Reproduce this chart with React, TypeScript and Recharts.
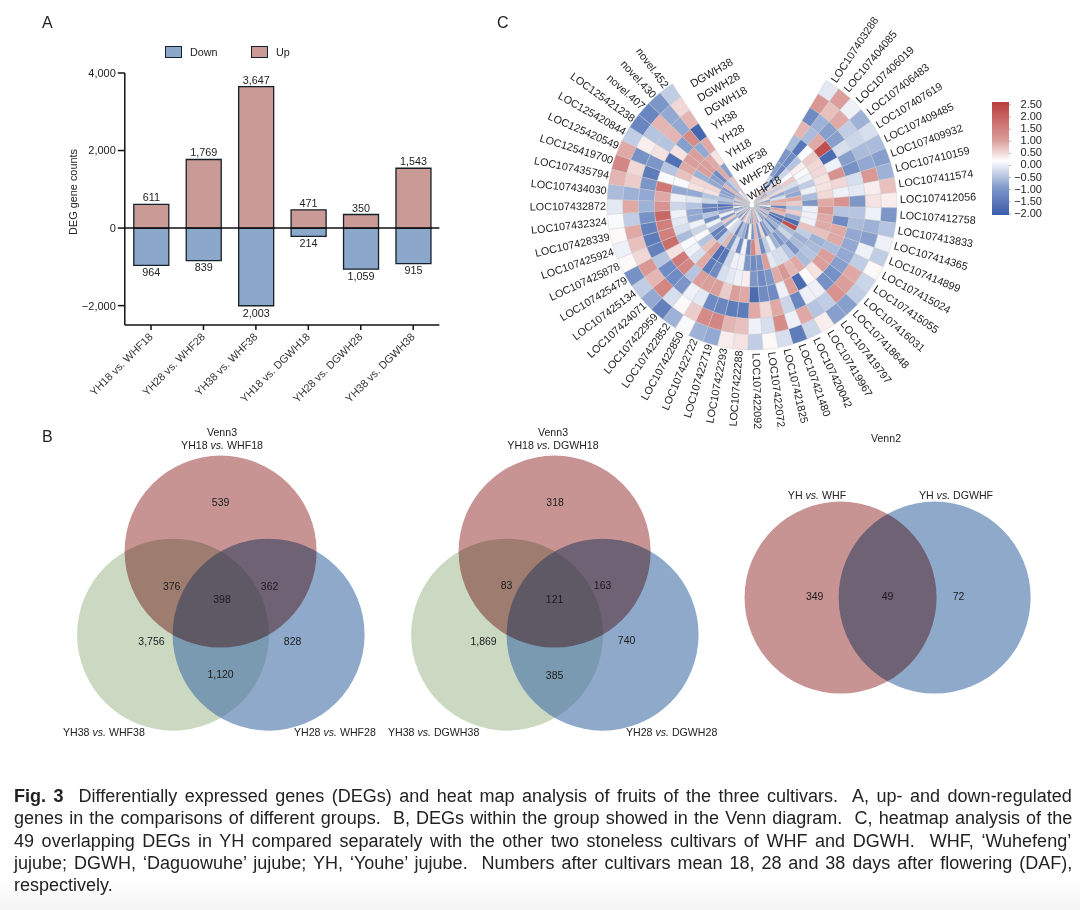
import React from "react";
import {
  Bar,
  BarChart,
  Cell,
  ComposedChart,
  LabelList,
  Legend,
  Pie,
  PieChart,
  ReferenceLine,
  Scatter,
  ScatterChart,
  XAxis,
  YAxis,
  ZAxis,
} from "recharts";

const FONT = "Arial, 'Liberation Sans', sans-serif";
const INK = "#222";

// panel A
const COMPARISONS = [
  "YH18 vs. WHF18",
  "YH28 vs. WHF28",
  "YH38 vs. WHF38",
  "YH18 vs. DGWH18",
  "YH28 vs. DGWH28",
  "YH38 vs. DGWH38",
];
const UP_COUNTS = [611, 1769, 3647, 471, 350, 1543];
const DOWN_COUNTS = [-964, -839, -2003, -214, -1059, -915];
const COUNT_TICKS = [-2000, 0, 2000, 4000];

const barData = COMPARISONS.map((name, i) => ({
  name,
  Up: UP_COUNTS[i],
  Down: DOWN_COUNTS[i],
}));

// panel C, genes run clockwise from the top right
const GENES = [
  "LOC107403288", "LOC107404085", "LOC107406019", "LOC107406483", "LOC107407619", "LOC107409485", "LOC107409932",
  "LOC107410159", "LOC107411574", "LOC107412056", "LOC107412758", "LOC107413833", "LOC107414365", "LOC107414899",
  "LOC107415024", "LOC107415055", "LOC107416031", "LOC107418648", "LOC107419797", "LOC107419967", "LOC107420042",
  "LOC107421480", "LOC107421825", "LOC107422072", "LOC107422092", "LOC107422288", "LOC107422293", "LOC107422719",
  "LOC107422722", "LOC107422850", "LOC107422852", "LOC107422959", "LOC107424071", "LOC107425134", "LOC107425479",
  "LOC107425878", "LOC107425924", "LOC107428339", "LOC107432324", "LOC107432872", "LOC107434030", "LOC107435794",
  "LOC125419700", "LOC125420549", "LOC125420844", "LOC125421238", "novel.407", "novel.430", "novel.452",
];
const DGWH38 = [
  -0.1, 1.0, 0, -0.7, -0.2, -0.6, -0.9,
  -0.7, 0.7, 0.3, -1.0, -0.5, 0, -0.4,
  0.2, -0.3, -0.4, -0.9, -0.9, 0.3, -0.3,
  -1.5, -0.2, 0.2, -0.4, 0.4, 0.3, -0.8,
  -0.7, 0.1, -0.7, -1.4, -0.8, -0.4, -1.1,
  0.2, 0, 0.2, 0.1, -0.1, -0.6, 0.8,
  1.4, 0.9, -0.4, -1.3, -1.3, -1.0, -0.4,
];
const DGWH28 = [
  1.1, 0.7, 0.9, -0.4, -0.3, -0.6, -0.8,
  1.1, 0.3, 0.4, 0, -0.7, -0.9, 0,
  -0.4, 0.9, 1.0, 1.2, -0.4, -0.5, 0.9,
  0, 1.3, -0.2, 0, 0.7, 0.8, 1.4,
  1.3, 0.6, 0.2, -0.2, 1.4, 0.8, 1.1,
  0.5, 0.7, 0.9, -0.4, 0.9, -0.7, 0.6,
  0.5, -1.1, 0.3, -0.5, 0.8, -0.8, 0.5,
];
const DGWH18 = [
  -1.2, -0.7, -0.9, -0.9, -0.2, -0.9, -1.1,
  -0.2, -0.1, -1.0, -0.5, -0.6, -0.8, -0.8,
  -0.8, -0.9, -1.1, -1.1, 0, 0, -1.3,
  -0.3, 0.9, 0.5, 0.9, -1.5, -1.5, -1.3,
  -1.2, -0.1, 0, -1.0, -1.2, -1.2, -0.5,
  -1.4, -1.5, -1.4, -1.1, -0.7, -0.8, -1.0,
  -1.5, -1.0, 0.4, -0.5, 0.8, -0.8, 0.8,
];
const YH38 = [
  0.8, -0.6, 0.9, 2.3, -1.8, 0, 1.2,
  0.5, 0, 1.2, -0.5, -1.2, 0.9, 0.9,
  -0.6, 1.0, 1.0, 0.4, 0.2, -1.8, 1.0,
  0, -1.2, -1.2, -1.8, 0.9, 1.0, 0.6,
  1.0, 1.0, 1.0, -0.5, 1.4, 1.6, 0.4,
  1.8, 1.5, 1.5, 1.9, 1.2, 0.9, 1.6,
  0.1, -0.5, -1.7, 0.4, -0.9, 1.3, -1.9,
];
const YH28 = [
  -0.6, -1.6, 0.1, 0.6, 0.5, 0.5, 0.4,
  0.4, 0.5, 0.9, 1.1, 0.9, 0.9, 0.7,
  -0.7, -0.6, -0.5, -0.6, 0.9, 0.8, 1.1,
  0.9, -1.0, -1.2, -1.0, 0.3, 0, -0.1,
  -0.2, -1.2, -1.5, 0.9, -0.2, 0, 0.1,
  -0.6, -0.2, -0.1, 0, -0.3, 0, -0.8,
  0.1, 0.7, 0.9, 1.0, 1.0, -0.8, 0.9,
];
const YH18 = [
  -1.0, -1.2, -0.5, 0.3, 0.1, 0, -0.4,
  0, -0.6, -1.0, 0, 0, 0, 0.7,
  -0.4, -0.7, -0.6, -1.0, -0.5, -0.2, -0.2,
  -0.1, 1.0, -1.1, -1.2, -1.0, 0, 0,
  -0.3, -1.6, -1.7, 1.0, 0.7, -0.5, 0.1,
  -0.3, 0, -0.8, -0.8, -0.5, -0.1, -0.8,
  0.4, 0.5, -0.7, 1.0, 1.0, 0.9, 0.4,
];
const WHF38 = [
  -0.9, -1.3, -0.3, 0.1, 0.6, -0.2, -0.7,
  -0.8, 0.9, 0.6, -0.5, 0.6, -0.8, -1.8,
  2.3, -0.6, -0.3, -0.8, -1.0, -0.7, 0,
  -0.4, -1.2, 0.7, 1.4, -1.3, 0, -1.2,
  -0.2, -1.1, 0.8, -0.4, -1.3, -1.4, -0.6,
  0, -1.1, -0.5, -1.4, -1.3, -0.3, -0.5,
  0.4, 0.5, -0.8, -0.9, -1.2, 0.9, -0.9,
];
const WHF28 = [
  -0.3, -1.2, -0.2, 0.6, -0.4, 0.5, -0.8,
  -0.2, 0.9, 0.8, -1.3, 1.0, 0.8, -1.5,
  -1.8, -0.9, -0.7, -1.2, -0.5, -0.9, -1.2,
  0.5, -1.0, 0.8, -1.0, 0.1, -1.3, -0.8,
  -0.6, -1.4, -0.3, -0.2, 0.1, -0.8, 0.6,
  -1.0, 0, -0.8, -1.5, -1.7, -0.8, -0.5,
  -0.8, -0.9, -1.0, 0.8, -0.7, -0.4, 0.7,
];
const WHF18 = [
  0.6, 0.9, -0.5, -0.8, 0.9, -0.2, 0.4,
  -1.0, 1.0, -0.6, 0.2, -1.2, -1.3, 0.9,
  -0.5, -1.0, 0.7, -0.9, -1.1, -0.4, 0.3,
  -0.8, 0.9, -0.6, 1.2, -1.0, -0.4, 0.8,
  0, 0.7, -1.1, 0.5, -1.2, -0.6, -0.9,
  0.4, -0.7, -1.4, 0.2, -1.0, 0.6, -0.9,
  -0.3, 0.9, -0.8, -0.6, 0.8, 0.3, -0.5,
];
// outermost ring first, so the inner ring names stay on top
const RINGS = [
  { name: "DGWH38", values: DGWH38 },
  { name: "DGWH28", values: DGWH28 },
  { name: "DGWH18", values: DGWH18 },
  { name: "YH38", values: YH38 },
  { name: "YH28", values: YH28 },
  { name: "YH18", values: YH18 },
  { name: "WHF38", values: WHF38 },
  { name: "WHF28", values: WHF28 },
  { name: "WHF18", values: WHF18 },
];
const HEAT_TICKS = [-2, -1.5, -1, -0.5, 0, 0.5, 1, 1.5, 2, 2.5];

const HEAT_STOPS: [number, number[]][] = [
  [-2.1, [58, 92, 170]],
  [-1, [124, 150, 200]],
  [0.15, [255, 255, 255]],
  [1, [220, 158, 154]],
  [2.6, [184, 62, 62]],
];

const heatColor = (v: number) => {
  for (let i = 1; i < HEAT_STOPS.length; i++) {
    const [hi, c1] = HEAT_STOPS[i];
    const [lo, c0] = HEAT_STOPS[i - 1];
    if (v <= hi) {
      const t = (v - lo) / (hi - lo);
      return `rgb(${c0.map((c, k) => Math.round(c + (c1[k] - c) * t)).join(",")})`;
    }
  }
  return "rgb(184,62,62)";
};

// panel B, in units of one circle radius around the middle of each diagram
const VENN_THREE_SETS = [
  { x: -0.495, y: -0.365, set: "green" },
  { x: 0.5, y: -0.365, set: "blue" },
  { x: 0, y: 0.5, set: "red" },
];
const VENN_A_COUNTS = [
  { x: 0, y: 1.0, text: "539" },
  { x: -0.51, y: 0.125, text: "376" },
  { x: 0.015, y: -0.01, text: "398" },
  { x: 0.51, y: 0.125, text: "362" },
  { x: -0.72, y: -0.44, text: "3,756" },
  { x: 0.75, y: -0.44, text: "828" },
  { x: 0, y: -0.79, text: "1,120" },
];
const VENN_B_COUNTS = [
  { x: 0.005, y: 1.0, text: "318" },
  { x: -0.5, y: 0.135, text: "83" },
  { x: 0, y: -0.01, text: "121" },
  { x: 0.5, y: 0.135, text: "163" },
  { x: -0.74, y: -0.44, text: "1,869" },
  { x: 0.75, y: -0.43, text: "740" },
  { x: 0, y: -0.795, text: "385" },
];
const VENN_TWO_SETS = [
  { x: 0.49, y: 0, set: "blue" },
  { x: -0.49, y: 0, set: "red" },
];
const VENN_C_COUNTS = [
  { x: -0.76, y: 0, text: "349" },
  { x: 0, y: 0, text: "49" },
  { x: 0.74, y: 0, text: "72" },
];

const SET_STYLE: Record<string, any> = {
  green: { fill: "#cbd9c3" },
  blue: { fill: "#4370a5", fillOpacity: 0.6 },
  red: { fill: "#c79393", style: { mixBlendMode: "multiply" } },
};

const CAPTION = [
  "Differentially expressed genes (DEGs) and heat map analysis of fruits of the three cultivars.  A, up- and down-regulated",
  "genes in the comparisons of different groups.  B, DEGs within the group showed in the Venn diagram.  C, heatmap analysis of the",
  "49 overlapping DEGs in YH compared separately with the other two stoneless cultivars of WHF and DGWH.  WHF, ‘Wuhefeng’",
  "jujube; DGWH, ‘Daguowuhe’ jujube; YH, ‘Youhe’ jujube.  Numbers after cultivars mean 18, 28 and 38 days after flowering (DAF),",
  "respectively.",
];
const CAPTION_WORD_GAP = [2.5, 1.13, 2.6, 1.95, 0];
const CAPTION_Y = [796, 818, 841, 863, 885];

const VENN_R = 96;
const VENN_SPAN = 2.1;

const Note = ({ x, y, size = 10.6, center, wordSpacing, children }: any) => (
  <div
    style={{
      position: "absolute",
      left: x,
      top: y,
      transform: center ? "translate(-50%, -50%)" : "translate(0, -50%)",
      fontFamily: FONT,
      fontSize: size,
      color: INK,
      whiteSpace: "pre",
      lineHeight: 1,
      wordSpacing,
    }}
  >
    {children}
  </div>
);

const Vs = ({ a, b }: { a: string; b: string }) => (
  <>
    {a} <i>vs.</i> {b}
  </>
);

const Venn = ({ cx, cy, sets, counts }: any) => {
  const size = VENN_R * VENN_SPAN * 2;
  const area = Math.PI * VENN_R * VENN_R;
  return (
    <div style={{ position: "absolute", left: cx - size / 2, top: cy - size / 2 }}>
      <ScatterChart width={size} height={size} margin={{ top: 0, right: 0, bottom: 0, left: 0 }}>
        <XAxis type="number" dataKey="x" domain={[-VENN_SPAN, VENN_SPAN]} hide />
        <YAxis type="number" dataKey="y" domain={[-VENN_SPAN, VENN_SPAN]} hide />
        <ZAxis range={[area, area]} />
        {sets.map((s: any, i: number) => (
          <Scatter
            key={i}
            data={[s]}
            isAnimationActive={false}
            shape={(p: any) => <circle cx={p.cx} cy={p.cy} r={VENN_R} {...SET_STYLE[s.set]} />}
          />
        ))}
        <Scatter
          data={counts}
          isAnimationActive={false}
          shape={(p: any) => (
            <text x={p.cx} y={p.cy} textAnchor="middle" dominantBaseline="middle" fontSize={10.5} fontFamily={FONT} fill="#1c1c1c">
              {p.payload.text}
            </text>
          )}
        />
      </ScatterChart>
    </div>
  );
};

const HEAT_SIZE = 520;
const HEAT_START = 59.3; // recharts degrees, 30.7 clockwise from the top
const HEAT_SWEEP = 296;
const RING_WIDTH = 15.8;
const OUTER_RADIUS = 145;

const polar = (cx: number, cy: number, r: number, deg: number) => ({
  x: cx + r * Math.cos((-deg * Math.PI) / 180),
  y: cy + r * Math.sin((-deg * Math.PI) / 180),
});

const ringLabel = (ringIndex: number, ringName: string) => (p: any) => {
  const out: React.ReactNode[] = [];
  if (ringIndex === 0) {
    const right = Math.cos((p.midAngle * Math.PI) / 180) >= 0;
    const at = polar(p.cx, p.cy, OUTER_RADIUS + (right ? 3 : 1), p.midAngle);
    out.push(
      <text
        key="gene"
        x={at.x}
        y={at.y}
        fontSize={10.8}
        fontFamily={FONT}
        fill={INK}
        dominantBaseline="middle"
        textAnchor={right ? "start" : "end"}
        transform={`rotate(${right ? -p.midAngle : 180 - p.midAngle} ${at.x} ${at.y})`}
      >
        {p.payload.gene}
      </text>
    );
  }
  if (p.index === GENES.length - 1) {
    const at = polar(p.cx, p.cy, (p.innerRadius + p.outerRadius) / 2 - 3, p.midAngle - 9.5);
    out.push(
      <text
        key="ring"
        x={at.x}
        y={at.y}
        fontSize={11}
        fontFamily={FONT}
        fill={INK}
        dominantBaseline="middle"
        transform={`rotate(-30 ${at.x} ${at.y})`}
      >
        {ringName}
      </text>
    );
  }
  return <g>{out}</g>;
};

const Heat = () => (
  <div style={{ position: "absolute", left: 752 - HEAT_SIZE / 2, top: 205 - HEAT_SIZE / 2 }}>
    <PieChart width={HEAT_SIZE} height={HEAT_SIZE} margin={{ top: 0, right: 0, bottom: 0, left: 0 }}>
      {RINGS.map((ring, r) => (
        <Pie
          key={ring.name}
          data={GENES.map((gene, i) => ({ gene, level: ring.values[i], slice: 1 }))}
          dataKey="slice"
          nameKey="gene"
          cx={HEAT_SIZE / 2}
          cy={HEAT_SIZE / 2}
          startAngle={HEAT_START}
          endAngle={HEAT_START - HEAT_SWEEP}
          innerRadius={OUTER_RADIUS - RING_WIDTH * (r + 1)}
          outerRadius={OUTER_RADIUS - RING_WIDTH * r}
          stroke="#c9c9c9"
          strokeWidth={0.4}
          label={ringLabel(r, ring.name)}
          labelLine={false}
          isAnimationActive={false}
        >
          {ring.values.map((v, i) => (
            <Cell key={i} fill={heatColor(v)} />
          ))}
        </Pie>
      ))}
    </PieChart>
  </div>
);

const heatBarData = [{ name: "z", span: [-2.04, 2.62] }];

const HeatTick = ({ x, y, payload }: any) => (
  <text x={x + 29} y={y} textAnchor="end" dominantBaseline="middle" fontSize={11} fontFamily={FONT} fill={INK}>
    {payload.value < 0 ? "−" + Math.abs(payload.value).toFixed(2) : payload.value.toFixed(2)}
  </text>
);

const HeatScale = () => (
  <div style={{ position: "absolute", left: 992, top: 90 }}>
    <BarChart
      width={70}
      height={137}
      data={heatBarData}
      barCategoryGap={0}
      margin={{ top: 12, right: 0, bottom: 12, left: 0 }}
    >
      <defs>
        <linearGradient id="heatScale" x1="0" y1="1" x2="0" y2="0">
          {HEAT_STOPS.map(([v]) => (
            <stop key={v} offset={(v + 2.1) / 4.7} stopColor={heatColor(v)} />
          ))}
        </linearGradient>
      </defs>
      <XAxis dataKey="name" hide />
      <YAxis
        orientation="right"
        width={53}
        domain={[-2.04, 2.62]}
        ticks={HEAT_TICKS}
        interval={0}
        axisLine={false}
        tickLine={{ stroke: "#888", strokeWidth: 0.6 }}
        tickSize={2}
        tick={<HeatTick />}
      />
      <Bar dataKey="span" fill="url(#heatScale)" isAnimationActive={false} />
    </BarChart>
  </div>
);

const BarLegend = ({ payload }: any) => (
  <div style={{ display: "flex", fontFamily: FONT, fontSize: 10.8, color: INK }}>
    {(payload || []).map((e: any) => (
      <div key={e.value} style={{ display: "flex", alignItems: "center", width: 86 }}>
        <span
          style={{
            width: 15,
            height: 10,
            marginRight: 8,
            background: e.color,
            border: "1.5px solid #18222c",
            display: "inline-block",
          }}
        />
        {e.value}
      </div>
    ))}
  </div>
);

const DownLabel = ({ x, y, width, height, value }: any) => (
  <text
    x={x + width / 2}
    y={Math.max(y, y + height) + 8}
    textAnchor="middle"
    dominantBaseline="middle"
    fontSize={10.8}
    fontFamily={FONT}
    fill={INK}
  >
    {Math.abs(value).toLocaleString("en-US")}
  </text>
);

const DegBars = () => (
  <div style={{ position: "absolute", left: 30, top: 0 }}>
    <ComposedChart
      width={430}
      height={420}
      data={barData}
      stackOffset="sign"
      barSize={35}
      margin={{ top: 73, right: 20.6, bottom: 0, left: 0 }}
    >
      <XAxis
        dataKey="name"
        height={95}
        interval={0}
        tickSize={5}
        axisLine={{ stroke: "#111", strokeWidth: 1.5 }}
        tickLine={{ stroke: "#111", strokeWidth: 1.5 }}
        tick={{ fontSize: 10.8, fontFamily: FONT, fill: "#333", angle: -45, textAnchor: "end", dx: -3 }}
      />
      <YAxis
        width={94.8}
        domain={[-2500, 4000]}
        ticks={COUNT_TICKS}
        interval={0}
        allowDataOverflow
        tickSize={7}
        axisLine={{ stroke: "#111", strokeWidth: 1.5 }}
        tickLine={{ stroke: "#111", strokeWidth: 1.5 }}
        tick={{ fontSize: 11, fontFamily: FONT, fill: INK }}
        tickFormatter={(v: number) => (v < 0 ? "−" : "") + Math.abs(v).toLocaleString("en-US")}
        label={{
          value: "DEG gene counts",
          angle: -90,
          position: "insideLeft",
          offset: 43,
          dy: 36,
          style: { fontSize: 10.9, fontFamily: FONT, fill: INK },
        }}
      />
      <Legend
        layout="horizontal"
        verticalAlign="middle"
        content={<BarLegend />}
        wrapperStyle={{ left: 135, top: 46, width: 200 }}
      />
      <Bar dataKey="Down" stackId="deg" fill="#8ba7c9" stroke="#16202a" strokeWidth={1.3} isAnimationActive={false}>
        <LabelList dataKey="Down" content={<DownLabel />} />
      </Bar>
      <Bar dataKey="Up" stackId="deg" fill="#c99a96" stroke="#16202a" strokeWidth={1.3} isAnimationActive={false}>
        <LabelList
          dataKey="Up"
          position="top"
          offset={3}
          formatter={(v: number) => v.toLocaleString("en-US")}
          style={{ fontSize: 10.8, fontFamily: FONT, fill: INK }}
        />
      </Bar>
      <ReferenceLine y={0} stroke="#111" strokeWidth={1.5} />
    </ComposedChart>
  </div>
);

export default function App() {
  return (
    <div
      style={{
        position: "absolute",
        left: 0,
        top: 0,
        width: 1080,
        height: 910,
        overflow: "hidden",
        background: "linear-gradient(#fff 0, #fff 880px, #f3f3f3 910px)",
      }}
    >
      <Note x={42} y={23} size={16}>A</Note>
      <Note x={42} y={437} size={16}>B</Note>
      <Note x={497} y={23} size={16}>C</Note>

      <DegBars />
      <Heat />
      <HeatScale />

      <Note x={222} y={432} center>Venn3</Note>
      <Note x={222} y={445} center><Vs a="YH18" b="WHF18" /></Note>
      <Note x={553} y={432} center>Venn3</Note>
      <Note x={553} y={445} center><Vs a="YH18" b="DGWH18" /></Note>
      <Note x={886} y={438} center>Venn2</Note>

      <Venn cx={221} cy={600} sets={VENN_THREE_SETS} counts={VENN_A_COUNTS} />
      <Venn cx={554.5} cy={600} sets={VENN_THREE_SETS} counts={VENN_B_COUNTS} />
      <Venn cx={888} cy={598} sets={VENN_TWO_SETS} counts={VENN_C_COUNTS} />

      <Note x={63} y={732}><Vs a="YH38" b="WHF38" /></Note>
      <Note x={294} y={732}><Vs a="YH28" b="WHF28" /></Note>
      <Note x={388} y={732}><Vs a="YH38" b="DGWH38" /></Note>
      <Note x={626} y={732}><Vs a="YH28" b="DGWH28" /></Note>
      <Note x={817} y={495} center><Vs a="YH" b="WHF" /></Note>
      <Note x={956} y={495} center><Vs a="YH" b="DGWHF" /></Note>

      {CAPTION.map((line, i) => (
        <Note key={i} x={14} y={CAPTION_Y[i]} size={18} wordSpacing={CAPTION_WORD_GAP[i]}>
          {i === 0 && <b>Fig. 3  </b>}
          {line}
        </Note>
      ))}
    </div>
  );
}
